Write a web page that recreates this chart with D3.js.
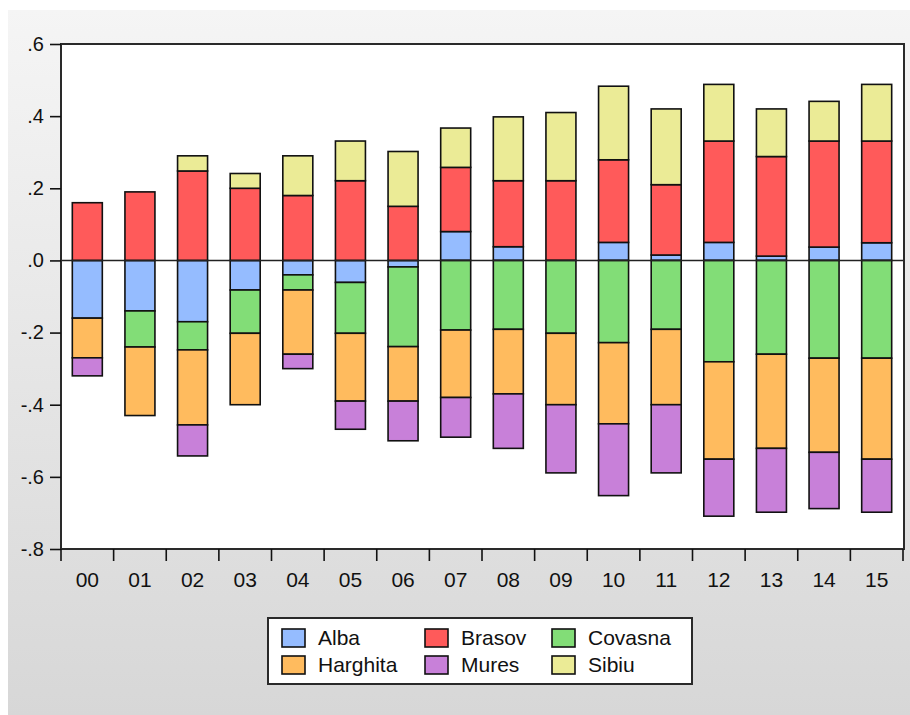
<!DOCTYPE html>
<html>
<head>
<meta charset="utf-8">
<script src="https://cdn.jsdelivr.net/npm/d3@7"></script>
<style>
  html, body { margin: 0; padding: 0; background: #ffffff; }
  svg { display: block; }
  text { font-family: "Liberation Sans", Arial, sans-serif; fill: #111; }
</style>
</head>
<body>
<svg id="chart" width="910" height="715"></svg>
<script>
// ---- data ----
const years = ["00","01","02","03","04","05","06","07","08","09","10","11","12","13","14","15"];
const seriesNames = ["Alba","Brasov","Covasna","Harghita","Mures","Sibiu"];
const alba     = [-0.16, -0.14, -0.17, -0.082, -0.04, -0.061, -0.018, 0.08, 0.038, 0.0, 0.05, 0.015, 0.05, 0.012, 0.037, 0.049];
const brasov   = [0.16, 0.19, 0.248, 0.20, 0.18, 0.221, 0.15, 0.178, 0.183, 0.221, 0.229, 0.195, 0.281, 0.276, 0.294, 0.282];
const covasna  = [0.0, -0.10, -0.078, -0.12, -0.042, -0.141, -0.221, -0.193, -0.191, -0.202, -0.228, -0.191, -0.281, -0.26, -0.271, -0.271];
const harghita = [-0.11, -0.19, -0.208, -0.198, -0.178, -0.188, -0.151, -0.187, -0.179, -0.198, -0.225, -0.209, -0.27, -0.261, -0.261, -0.28];
const mures    = [-0.05, 0.0, -0.086, 0.0, -0.04, -0.078, -0.11, -0.11, -0.151, -0.189, -0.199, -0.189, -0.158, -0.177, -0.156, -0.147];
const sibiu    = [0.0, 0.0, 0.042, 0.041, 0.11, 0.11, 0.152, 0.109, 0.177, 0.189, 0.204, 0.21, 0.157, 0.132, 0.11, 0.157];
const yTickValues = [0.6, 0.4, 0.2, 0.0, -0.2, -0.4, -0.6, -0.8];
const colors = ["#95bcff", "#ff5a5a", "#82dd77", "#ffbb5e", "#c880d9", "#ebeb96"];

const seriesValues = [alba, brasov, covasna, harghita, mures, sibiu];
const table = years.map((yr, i) => {
  const row = { year: yr };
  seriesNames.forEach((n, k) => row[n] = seriesValues[k][i]);
  return row;
});

// ---- layout ----
const svg = d3.select("#chart");
const defs = svg.append("defs");
const grad = defs.append("linearGradient").attr("id", "bg").attr("x1", 0).attr("y1", 0).attr("x2", 0).attr("y2", 1);
grad.append("stop").attr("offset", "0%").attr("stop-color", "#f5f5f5");
grad.append("stop").attr("offset", "100%").attr("stop-color", "#d7d7d7");
svg.append("rect").attr("x", 8).attr("y", 10).attr("width", 902).attr("height", 705).attr("fill", "url(#bg)");

const plot = { left: 61, right: 904, top: 44, bottom: 549 };

const x = d3.scaleBand().domain(years).range([plot.left, plot.right - 1]).padding(0);
const y = d3.scaleLinear().domain([-0.8, 0.6]).range([plot.bottom, plot.top]);
const barW = x.bandwidth() * 0.57;

svg.append("rect").attr("x", plot.left).attr("y", plot.top)
  .attr("width", plot.right - plot.left).attr("height", plot.bottom - plot.top)
  .attr("fill", "#ffffff");

const stack = d3.stack().keys(seriesNames).offset(d3.stackOffsetDiverging);
const stacked = stack(table);

const groups = svg.append("g").selectAll("g").data(stacked).join("g")
  .attr("fill", (d, i) => colors[i]);
groups.selectAll("rect").data(d => d.filter(p => Math.abs(p[1] - p[0]) > 1e-9)).join("rect")
  .attr("x", d => x(d.data.year) + (x.bandwidth() - barW) / 2)
  .attr("y", d => y(Math.max(d[0], d[1])))
  .attr("width", barW)
  .attr("height", d => Math.abs(y(d[0]) - y(d[1])))
  .attr("stroke", "#111")
  .attr("stroke-width", 1.6);

// zero line
svg.append("line").attr("x1", plot.left).attr("x2", plot.right)
  .attr("y1", y(0)).attr("y2", y(0)).attr("stroke", "#222").attr("stroke-width", 1.5);

// frame
svg.append("rect").attr("x", plot.left).attr("y", plot.top)
  .attr("width", plot.right - plot.left).attr("height", plot.bottom - plot.top)
  .attr("fill", "none").attr("stroke", "#2a2a2a").attr("stroke-width", 2);

// y axis
const fmt = v => (v < 0 ? "-" : "") + d3.format(".1f")(Math.abs(v)).replace(/^0/, "");
const yAxis = d3.axisLeft(y).tickValues(yTickValues).tickSize(11).tickPadding(6).tickFormat(fmt);
const gy = svg.append("g").attr("transform", `translate(${plot.left},0)`).call(yAxis);
gy.select(".domain").remove();
gy.selectAll(".tick line").attr("stroke", "#111").attr("stroke-width", 1.6);
gy.selectAll(".tick text").attr("font-size", 20).attr("fill", "#111")
  .style("font-family", "'Liberation Sans', Arial, sans-serif");

// x axis ticks at band boundaries
const bounds = years.map(d => x(d)).concat([x(years[years.length - 1]) + x.bandwidth()]);
svg.append("g").selectAll("line").data(bounds).join("line")
  .attr("x1", d => d).attr("x2", d => d)
  .attr("y1", plot.bottom).attr("y2", plot.bottom + 12)
  .attr("stroke", "#111").attr("stroke-width", 1.6);
svg.append("g").selectAll("text").data(years).join("text")
  .attr("x", d => x(d) + x.bandwidth() / 2)
  .attr("y", 587)
  .attr("text-anchor", "middle")
  .attr("font-size", 21)
  .text(d => d);

// legend
const lg = svg.append("g");
lg.append("rect").attr("x", 268).attr("y", 618).attr("width", 424).attr("height", 66)
  .attr("fill", "#ffffff").attr("stroke", "#2a2a2a").attr("stroke-width", 2);
const colX = [282, 425, 552];
const rowY = [629, 656];
seriesNames.forEach((n, i) => {
  const c = i % 3, r = Math.floor(i / 3);
  lg.append("rect").attr("x", colX[c]).attr("y", rowY[r]).attr("width", 23).attr("height", 18)
    .attr("fill", colors[i]).attr("stroke", "#111").attr("stroke-width", 1.6);
  lg.append("text").attr("x", colX[c] + 36).attr("y", rowY[r] + 16)
    .attr("font-size", 21).text(n);
});
</script>
</body>
</html>
